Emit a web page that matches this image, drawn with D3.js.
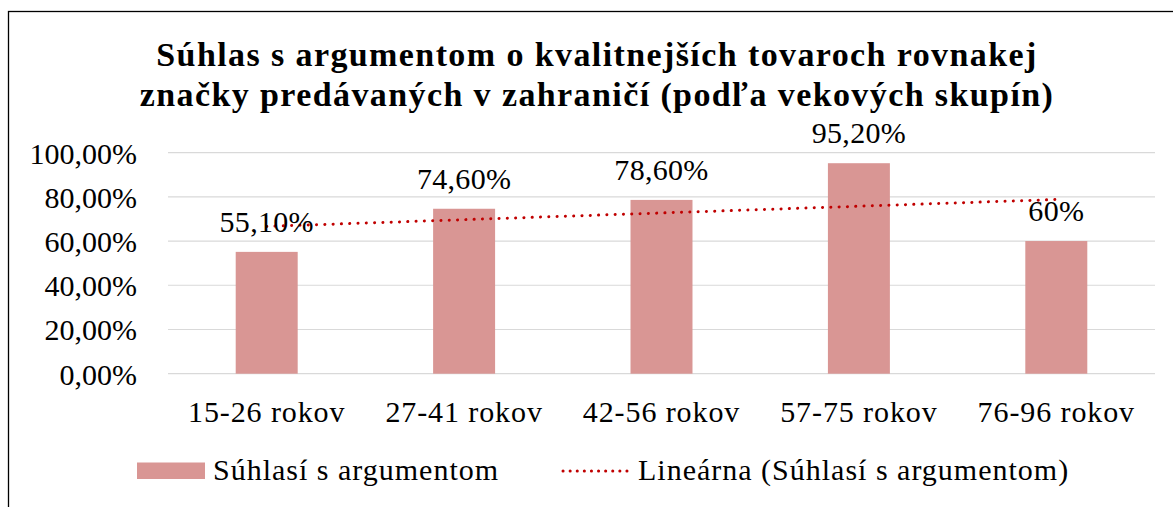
<!DOCTYPE html>
<html>
<head>
<meta charset="utf-8">
<script src="https://cdn.jsdelivr.net/npm/d3@7"></script>
<style>
  body { margin: 0; background: #fff; }
  svg text { font-family: "Liberation Serif", "DejaVu Serif", serif; fill: #000; }
</style>
</head>
<body>
<div id="chart"></div>
<script>
// data
var categories = ["15-26 rokov", "27-41 rokov", "42-56 rokov", "57-75 rokov", "76-96 rokov"];
var values = [0.551, 0.746, 0.786, 0.952, 0.60];
var valueLabels = ["55,10%", "74,60%", "78,60%", "95,20%", "60%"];
var yTicks = [0, 0.2, 0.4, 0.6, 0.8, 1.0];
var titleLines = ["Súhlas s argumentom o kvalitnejších tovaroch rovnakej",
                  "značky predávaných v zahraničí (podľa vekových skupín)"];
var seriesName = "Súhlasí s argumentom";
var trendName = "Lineárna (Súhlasí s argumentom)";

var width = 1173, height = 507;
var margin = {top: 152.6, right: 18, bottom: 133.3, left: 168};
var serif = "'Liberation Serif', 'DejaVu Serif', serif";

var locale = d3.formatLocale({decimal: ",", thousands: " ", grouping: [3], currency: ["", " €"]});
var pct = locale.format(".2%");

var svg = d3.select("#chart").append("svg")
  .attr("width", width)
  .attr("height", height);

// chart border (runs off the right and bottom edge, like the screenshot)
svg.append("rect")
  .attr("x", 8.5).attr("y", 11.5)
  .attr("width", width + 20).attr("height", height + 20)
  .attr("fill", "#fff")
  .attr("stroke", "#000")
  .attr("stroke-width", 1.3);

// title
svg.append("g").selectAll("text")
  .data(titleLines)
  .enter().append("text")
  .attr("x", 597)
  .attr("y", function(d, i) { return 66 + i * 39.5; })
  .attr("text-anchor", "middle")
  .style("font-family", serif)
  .style("font-size", "34px")
  .style("font-weight", "bold")
  .style("letter-spacing", "1.4px")
  .text(function(d) { return d; });

var x = d3.scaleBand()
  .domain(categories)
  .range([margin.left, width - margin.right])
  .paddingInner(0.686)
  .paddingOuter(0.343);

var y = d3.scaleLinear()
  .domain([0, 1])
  .range([height - margin.bottom, margin.top]);

// gridlines
svg.append("g").selectAll("line")
  .data(yTicks)
  .enter().append("line")
  .attr("x1", margin.left)
  .attr("x2", width - margin.right)
  .attr("y1", function(d) { return y(d); })
  .attr("y2", function(d) { return y(d); })
  .attr("stroke", "#d9d9d9")
  .attr("stroke-width", 1.2);

// y axis labels
var yAxis = svg.append("g")
  .attr("transform", "translate(" + margin.left + ",0)")
  .call(d3.axisLeft(y).tickValues(yTicks).tickFormat(pct).tickSize(0).tickPadding(31));
yAxis.select(".domain").remove();
yAxis.selectAll("text")
  .style("font-size", "30px")
  .style("font-family", serif)
  .attr("dy", "0.35em");

// x axis labels
var xAxis = svg.append("g")
  .attr("transform", "translate(0," + y(0) + ")")
  .call(d3.axisBottom(x).tickSize(0).tickPadding(0));
xAxis.select(".domain").remove();
xAxis.selectAll("text")
  .style("font-size", "30px")
  .style("font-family", serif)
  .style("letter-spacing", "0.9px")
  .attr("dy", "48px");

// bars
svg.append("g").selectAll("rect")
  .data(values)
  .enter().append("rect")
  .attr("x", function(d, i) { return x(categories[i]); })
  .attr("y", function(d) { return y(d); })
  .attr("width", x.bandwidth())
  .attr("height", function(d) { return y(0) - y(d); })
  .attr("fill", "#d99694");

// linear trendline (least squares over category index)
var xs = values.map(function(d, i) { return i + 1; });
var mx = d3.mean(xs), my = d3.mean(values);
var slope = d3.sum(xs, function(xi, i) { return (xi - mx) * (values[i] - my); }) /
            d3.sum(xs, function(xi) { return (xi - mx) * (xi - mx); });
var icpt = my - slope * mx;
var trend = [xs[0], xs[xs.length - 1]].map(function(xi) {
  return {cat: categories[xi - 1], v: icpt + slope * xi};
});

var line = d3.line()
  .x(function(d) { return x(d.cat) + x.bandwidth() / 2; })
  .y(function(d) { return y(d.v); });

svg.append("path")
  .datum(trend)
  .attr("d", line)
  .attr("fill", "none")
  .attr("stroke", "#c00000")
  .attr("stroke-width", 3)
  .attr("stroke-linecap", "round")
  .attr("stroke-dasharray", "0.1 8.2");

// data labels
svg.append("g").selectAll("text")
  .data(values)
  .enter().append("text")
  .attr("x", function(d, i) { return x(categories[i]) + x.bandwidth() / 2; })
  .attr("y", function(d) { return y(d) - 20; })
  .attr("text-anchor", "middle")
  .style("font-size", "30px")
  .style("letter-spacing", "0.3px")
  .text(function(d, i) { return valueLabels[i]; });

// legend
var legend = svg.append("g");
legend.append("rect")
  .attr("x", 137).attr("y", 462.5)
  .attr("width", 68).attr("height", 16.5)
  .attr("fill", "#d99694");
legend.append("text")
  .attr("x", 213).attr("y", 480)
  .style("font-size", "30px")
  .style("letter-spacing", "1px")
  .text(seriesName);
legend.append("line")
  .attr("x1", 563).attr("x2", 634)
  .attr("y1", 471).attr("y2", 471)
  .attr("stroke", "#c00000")
  .attr("stroke-width", 3)
  .attr("stroke-linecap", "round")
  .attr("stroke-dasharray", "0.1 7");
legend.append("text")
  .attr("x", 638).attr("y", 480)
  .style("font-size", "30px")
  .style("letter-spacing", "1px")
  .text(trendName);
</script>
</body>
</html>
